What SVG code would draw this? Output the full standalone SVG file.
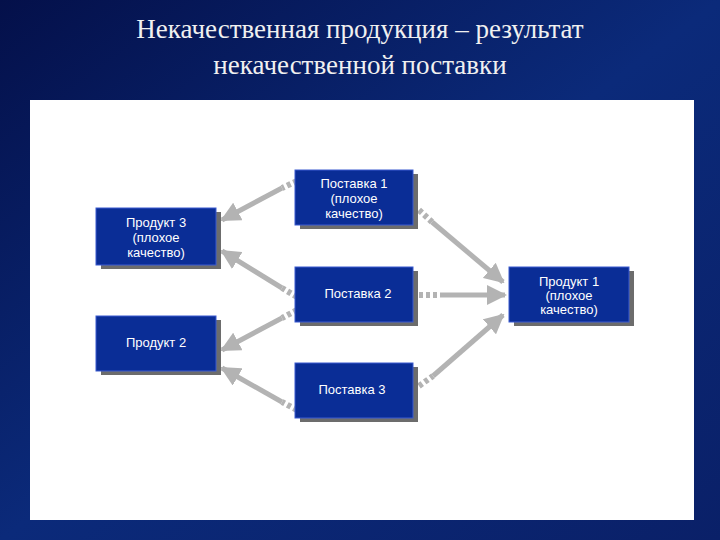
<svg xmlns="http://www.w3.org/2000/svg" width="720" height="540" viewBox="0 0 720 540">
<defs>
<linearGradient id="bg" x1="0" y1="0" x2="1" y2="1">
<stop offset="0" stop-color="#04104a"/><stop offset="0.5" stop-color="#0b2a7a"/><stop offset="1" stop-color="#0a2068"/>
</linearGradient>
<marker id="ah" viewBox="0 0 10 10" refX="9" refY="5" markerWidth="4" markerHeight="4" markerUnits="strokeWidth" orient="auto"><path d="M0,0L10,5L0,10z" fill="#b3b3b3"/></marker>
<style>
.t{font-family:"Liberation Serif",serif;font-size:27px;fill:#f0f0f0;text-anchor:middle}
.b{fill:#0a2d96;stroke:#3a5bd0;stroke-width:1}
.s{fill:#6c6c6c}
.l{font-family:"Liberation Sans",Arial,sans-serif;font-size:13px;fill:#fff;text-anchor:middle}
.d{stroke:#b3b3b3;stroke-width:6;stroke-dasharray:4 3;fill:none}
.a{stroke:#b3b3b3;stroke-width:5;fill:none;marker-end:url(#ah)}
</style>
</defs>
<rect width="720" height="540" fill="url(#bg)"/>
<text class="t" x="360" y="38">Некачественная продукция – результат</text>
<text class="t" x="360" y="74">некачественной поставки</text>
<rect x="30" y="100" width="664" height="420" fill="#fff"/>
<g id="connectors">
<line class="d" x1="297" y1="181" x2="282" y2="188"/><line class="a" x1="282" y1="188" x2="222" y2="220"/>
<line class="d" x1="419" y1="210" x2="432" y2="222"/><line class="a" x1="432" y1="222" x2="503" y2="282"/>
<line class="d" x1="297" y1="297" x2="282" y2="288"/><line class="a" x1="282" y1="288" x2="222" y2="251"/>
<line class="d" x1="297" y1="310" x2="282" y2="318"/><line class="a" x1="282" y1="318" x2="222" y2="350"/>
<line class="d" x1="419" y1="295" x2="440" y2="295"/><line class="a" x1="440" y1="295" x2="505" y2="295"/>
<line class="d" x1="297" y1="410" x2="282" y2="402"/><line class="a" x1="282" y1="402" x2="222" y2="368"/>
<line class="d" x1="419" y1="386" x2="433" y2="376"/><line class="a" x1="433" y1="376" x2="503" y2="315"/>
</g>
<g id="postavka1"><rect class="s" x="300" y="174" width="118" height="55"/><rect class="b" x="295" y="170" width="118" height="55"/>
<text class="l" x="354" y="188">Поставка 1</text><text class="l" x="354" y="203">(плохое</text><text class="l" x="354" y="218">качество)</text></g>
<g id="produkt3"><rect class="s" x="101" y="212" width="120" height="57"/><rect class="b" x="96" y="208" width="120" height="57"/>
<text class="l" x="156" y="227">Продукт 3</text><text class="l" x="156" y="242">(плохое</text><text class="l" x="156" y="257">качество)</text></g>
<g id="postavka2"><rect class="s" x="300" y="271" width="118" height="55"/><rect class="b" x="295" y="267" width="118" height="55"/>
<text class="l" x="358" y="298">Поставка 2</text></g>
<g id="produkt2"><rect class="s" x="101" y="320" width="120" height="55"/><rect class="b" x="96" y="316" width="120" height="55"/>
<text class="l" x="156" y="347">Продукт 2</text></g>
<g id="postavka3"><rect class="s" x="300" y="367" width="118" height="55"/><rect class="b" x="295" y="363" width="118" height="55"/>
<text class="l" x="352" y="394">Поставка 3</text></g>
<g id="produkt1"><rect class="s" x="514" y="271" width="120" height="55"/><rect class="b" x="509" y="267" width="120" height="55"/>
<text class="l" x="569" y="286">Продукт 1</text><text class="l" x="569" y="300">(плохое</text><text class="l" x="569" y="314">качество)</text></g>
</svg>
